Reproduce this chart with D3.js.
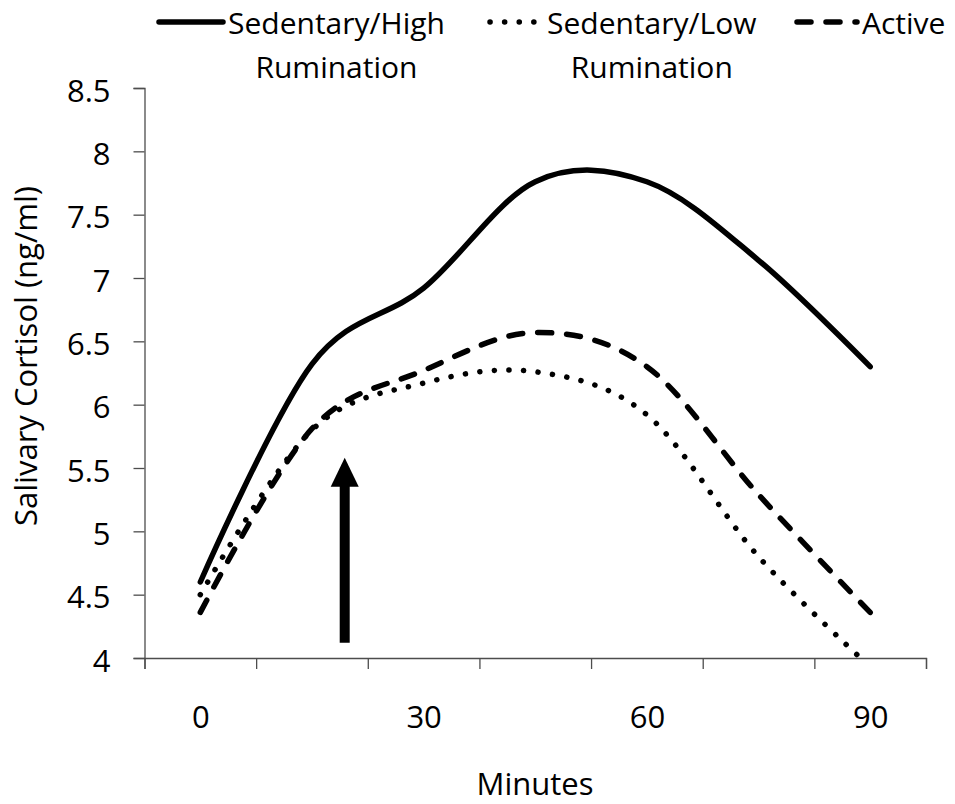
<!DOCTYPE html>
<html>
<head>
<meta charset="utf-8">
<script src="https://cdn.jsdelivr.net/npm/d3@7/dist/d3.min.js"></script>
<style>
  body { margin: 0; background: #fff; }
  svg text { font-family: "Open Sans", "Noto Sans", sans-serif; fill: #000; }
</style>
</head>
<body>
<div id="chart"></div>
<script>
// DATA
var minutes = [0, 15, 30, 45, 60, 75, 90];
var highRum = [4.60, 6.32, 6.92, 7.76, 7.76, 7.14, 6.30];
var lowRum  = [4.50, 5.80, 6.17, 6.26, 5.92, 4.80, 3.93];
var active  = [4.36, 5.81, 6.27, 6.57, 6.30, 5.29, 4.36];
var xLabels = [0, 30, 60, 90];
var yTicks = [4, 4.5, 5, 5.5, 6, 6.5, 7, 7.5, 8, 8.5];
// arrow marker (minute, from, to)
var arrowMinute = 19.4, arrowFrom = 4.12, arrowTo = 5.58;

var width = 955, height = 804;

var svg = d3.select("#chart")
  .append("svg")
    .attr("width", width)
    .attr("height", height);

// category style axis: one slot per sample, ticks between slots
var x = d3.scaleLinear()
  .domain([-7.5, 97.5])
  .range([144.5, 926]);
var y = d3.scaleLinear()
  .domain([4, 8.5])
  .range([658, 88]);

var axisColor = "#4d4d4d";

// y axis
var yAxis = svg.append("g")
  .attr("transform", "translate(" + x(-7.5) + ",0)")
  .call(d3.axisLeft(y).tickValues(yTicks).tickSize(11).tickPadding(23)
        .tickFormat(function(d){ return d; }));
yAxis.selectAll("text").style("font-size", "31px").attr("dy", "0.42em");

// x axis tick marks
var boundaries = [];
for (let i = 0; i <= minutes.length; i++) boundaries.push(-7.5 + 15 * i);
var xAxis = svg.append("g")
  .attr("transform", "translate(0," + y(4) + ")")
  .call(d3.axisBottom(x).tickValues(boundaries).tickSize(11).tickFormat(""));

// x labels
var xLab = svg.append("g")
  .attr("transform", "translate(0," + y(4) + ")")
  .call(d3.axisBottom(x).tickValues(xLabels).tickSize(0).tickPadding(48));
xLab.select(".domain").remove();
xLab.selectAll("text").style("font-size", "31px");

svg.selectAll(".domain, .tick line")
  .attr("stroke", axisColor)
  .attr("stroke-width", 1.3);

// axis titles
svg.append("text")
  .attr("x", 535).attr("y", 795)
  .attr("text-anchor", "middle")
  .style("font-size", "31px")
  .text("Minutes");

svg.append("text")
  .attr("transform", "translate(37,356) rotate(-90)")
  .attr("text-anchor", "middle")
  .style("font-size", "31px")
  .text("Salivary Cortisol (ng/ml)");

// clip to plot area
svg.append("clipPath").attr("id", "plot")
  .append("rect")
    .attr("x", x(-7.5)).attr("y", y(8.5) - 10)
    .attr("width", x(97.5) - x(-7.5)).attr("height", y(4) - y(8.5) + 10);

var series = [
  { name: ["Sedentary/High", "Rumination"], values: highRum, dash: null },
  { name: ["Sedentary/Low", "Rumination"], values: lowRum, dash: "0.1 14.5" },
  { name: ["Active"], values: active, dash: "14 15" }
];

var line = d3.line()
  .x(function(d, i){ return x(minutes[i]); })
  .y(function(d){ return y(d); })
  .curve(d3.curveCardinal.tension(0));

var plot = svg.append("g").attr("clip-path", "url(#plot)");
series.forEach(function(s){
  plot.append("path")
    .datum(s.values)
    .attr("fill", "none")
    .attr("stroke", "#000")
    .attr("stroke-width", 5.5)
    .attr("stroke-linecap", "round")
    .attr("stroke-dasharray", s.dash)
    .attr("d", line);
});

// arrow
var ax = x(arrowMinute);
svg.append("line")
  .attr("x1", ax).attr("x2", ax)
  .attr("y1", y(arrowFrom)).attr("y2", y(arrowTo) + 26)
  .attr("stroke", "#000").attr("stroke-width", 10);
svg.append("path")
  .attr("d", "M" + (ax - 14) + "," + (y(arrowTo) + 29) +
             "L" + ax + "," + y(arrowTo) +
             "L" + (ax + 14) + "," + (y(arrowTo) + 29) + "Z")
  .attr("fill", "#000");

// legend
var legendX = [156, 487, 794];
var sampleW = [70, 58, 66];
series.forEach(function(s, i){
  var g = svg.append("g").attr("transform", "translate(" + legendX[i] + ",0)");
  g.append("line")
    .attr("x1", 3).attr("x2", sampleW[i] - 3)
    .attr("y1", 22).attr("y2", 22)
    .attr("stroke", "#000").attr("stroke-width", 5.5)
    .attr("stroke-linecap", "round")
    .attr("stroke-dasharray", s.dash);
  var t = g.append("text")
    .attr("x", sampleW[i] + 2).attr("y", 34)
    .style("font-size", "30px")
    .text(s.name[0]);
  if (s.name.length > 1) {
    var w = t.node().getComputedTextLength();
    g.append("text")
      .attr("x", sampleW[i] + 2 + w / 2).attr("y", 78)
      .attr("text-anchor", "middle")
      .style("font-size", "30px")
      .text(s.name[1]);
  }
});
</script>
</body>
</html>
